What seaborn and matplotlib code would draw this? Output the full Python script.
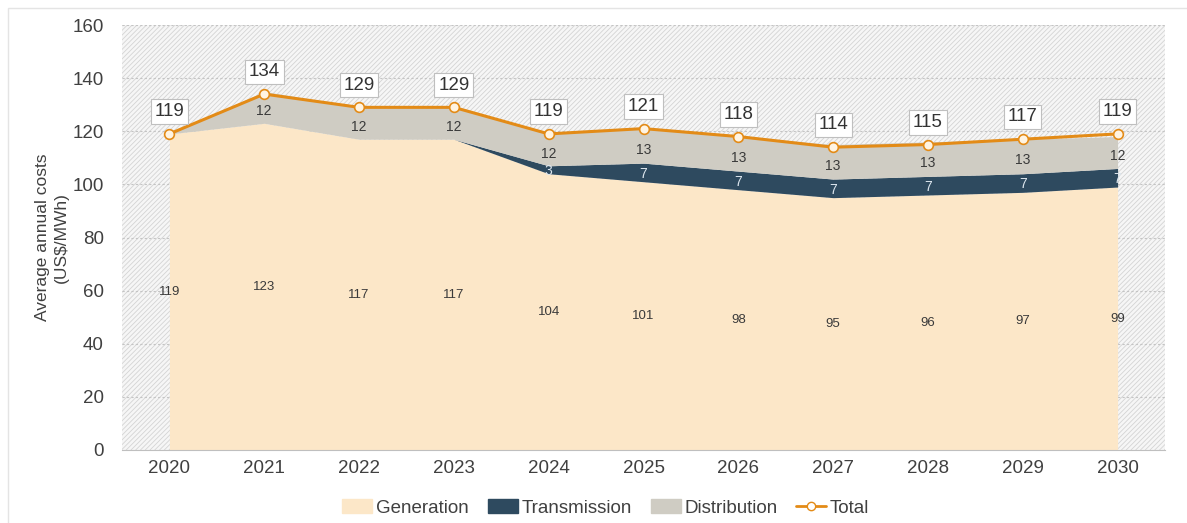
import numpy as np
import pandas as pd
import seaborn as sns
import matplotlib.pyplot as plt
from matplotlib.patches import Patch, Rectangle
from matplotlib.lines import Line2D

# data
years = ['2020', '2021', '2022', '2023', '2024', '2025', '2026', '2027', '2028', '2029', '2030']
generation = [119, 123, 117, 117, 104, 101, 98, 95, 96, 97, 99]
transmission = [0, 0, 0, 0, 3, 7, 7, 7, 7, 7, 7]
distribution = [0, 12, 12, 12, 12, 13, 13, 13, 13, 13, 12]
total = [119, 134, 129, 129, 119, 121, 118, 114, 115, 117, 119]

# colours
c_gen = '#FCE7C8'
c_trans = '#2E4A5F'
c_dist = '#CFCCC3'
c_total = '#E38B17'

sns.set_theme(style='white')
plt.rcParams['font.family'] = ['Liberation Sans', 'DejaVu Sans']
plt.rcParams['hatch.linewidth'] = 0.6

df = pd.DataFrame({'year': years, 'x': np.arange(len(years)), 'total': total})

fig = plt.figure(figsize=(11.87, 5.23), dpi=100)
ax = fig.add_axes([122 / 1187, 1 - 450 / 523, (1165 - 122) / 1187, (450 - 25) / 523])

# hatched background
bg = Rectangle((0, 0), 1, 1, transform=ax.transAxes, facecolor='#F6F6F6',
               edgecolor='#D4D4D4', hatch='///////', lw=0, zorder=0)
ax.add_patch(bg)
ax.set_facecolor('white')

for yv in range(20, 161, 20):
    ax.axhline(yv, color='#C4C4C4', lw=0.8, ls=(0, (2, 2)), zorder=1)

x = df['x'].values
ax.stackplot(x, generation, transmission, distribution,
             colors=[c_gen, c_trans, c_dist], lw=0, zorder=2)

sns.lineplot(data=df, x='x', y='total', ax=ax, color=c_total, lw=2.2,
             marker='o', markersize=7, markerfacecolor='#FFF4E2',
             markeredgecolor=c_total, markeredgewidth=1.2, zorder=4)

# labels
gen = np.array(generation)
tr = np.array(transmission)
di = np.array(distribution)
for i in range(len(years)):
    ax.text(x[i], gen[i] / 2, str(gen[i]), ha='center', va='center',
            fontsize=9.5, color='#3A3A3A', zorder=5)
    if tr[i] > 0:
        ax.text(x[i], gen[i] + tr[i] / 2 - 0.5, str(tr[i]), ha='center', va='center',
                fontsize=10, color='#DDE6EE', zorder=5)
    if di[i] > 0:
        ax.text(x[i], gen[i] + tr[i] + di[i] / 2 - 1.5, str(di[i]), ha='center', va='center',
                fontsize=10, color='#3A3A3A', zorder=5)
    ax.annotate(str(total[i]), (x[i], total[i]), xytext=(0, 16), textcoords='offset points',
                ha='center', va='center', fontsize=13.5, color='#333333', zorder=6,
                bbox=dict(boxstyle='square,pad=0.2', fc='white', ec='#BFBFBF', lw=0.8))

ax.set_xlim(-0.5, len(years) - 0.5)
ax.set_ylim(0, 160)
ax.set_yticks(range(0, 161, 20))
ax.set_xticks(x)
ax.set_xticklabels(years)
ax.set_xticks(np.arange(-0.5, len(years), 1), minor=True)
ax.tick_params(axis='x', which='major', length=0, pad=7, labelsize=13.5, labelcolor='#404040')
ax.tick_params(axis='x', which='minor', length=4, color='#BFBFBF', width=0.8)
ax.tick_params(axis='y', length=0, pad=13, labelsize=13.5, labelcolor='#404040')
ax.set_xlabel('')
ax.set_ylabel('Average annual costs\n(US$/MWh)', fontsize=12.5, color='#404040',
              labelpad=3, linespacing=1.3)
for s in ['top', 'right', 'left']:
    ax.spines[s].set_visible(False)
ax.spines['bottom'].set_color('#BFBFBF')
ax.spines['bottom'].set_linewidth(0.8)

handles = [Patch(color=c_gen, label='Generation'),
           Patch(color=c_trans, label='Transmission'),
           Patch(color=c_dist, label='Distribution'),
           Line2D([0], [0], color=c_total, lw=2, marker='o', markersize=6,
                  markerfacecolor='white', markeredgecolor=c_total, label='Total')]
fig.legend(handles=handles, loc='center', bbox_to_anchor=(606 / 1187, 1 - 508 / 523),
           ncol=4, frameon=False, fontsize=13.5, handlelength=1.6, handleheight=0.7,
           columnspacing=1.0, handletextpad=0.2, labelcolor='#404040')

# faint border of the original frame
fig.add_artist(Rectangle((8 / 1187, -0.1), 1.2, 1 - 8 / 523 + 0.1, transform=fig.transFigure,
                         fill=False, ec='#E4E4E4', lw=1))

fig.savefig('out.png', dpi=100)
